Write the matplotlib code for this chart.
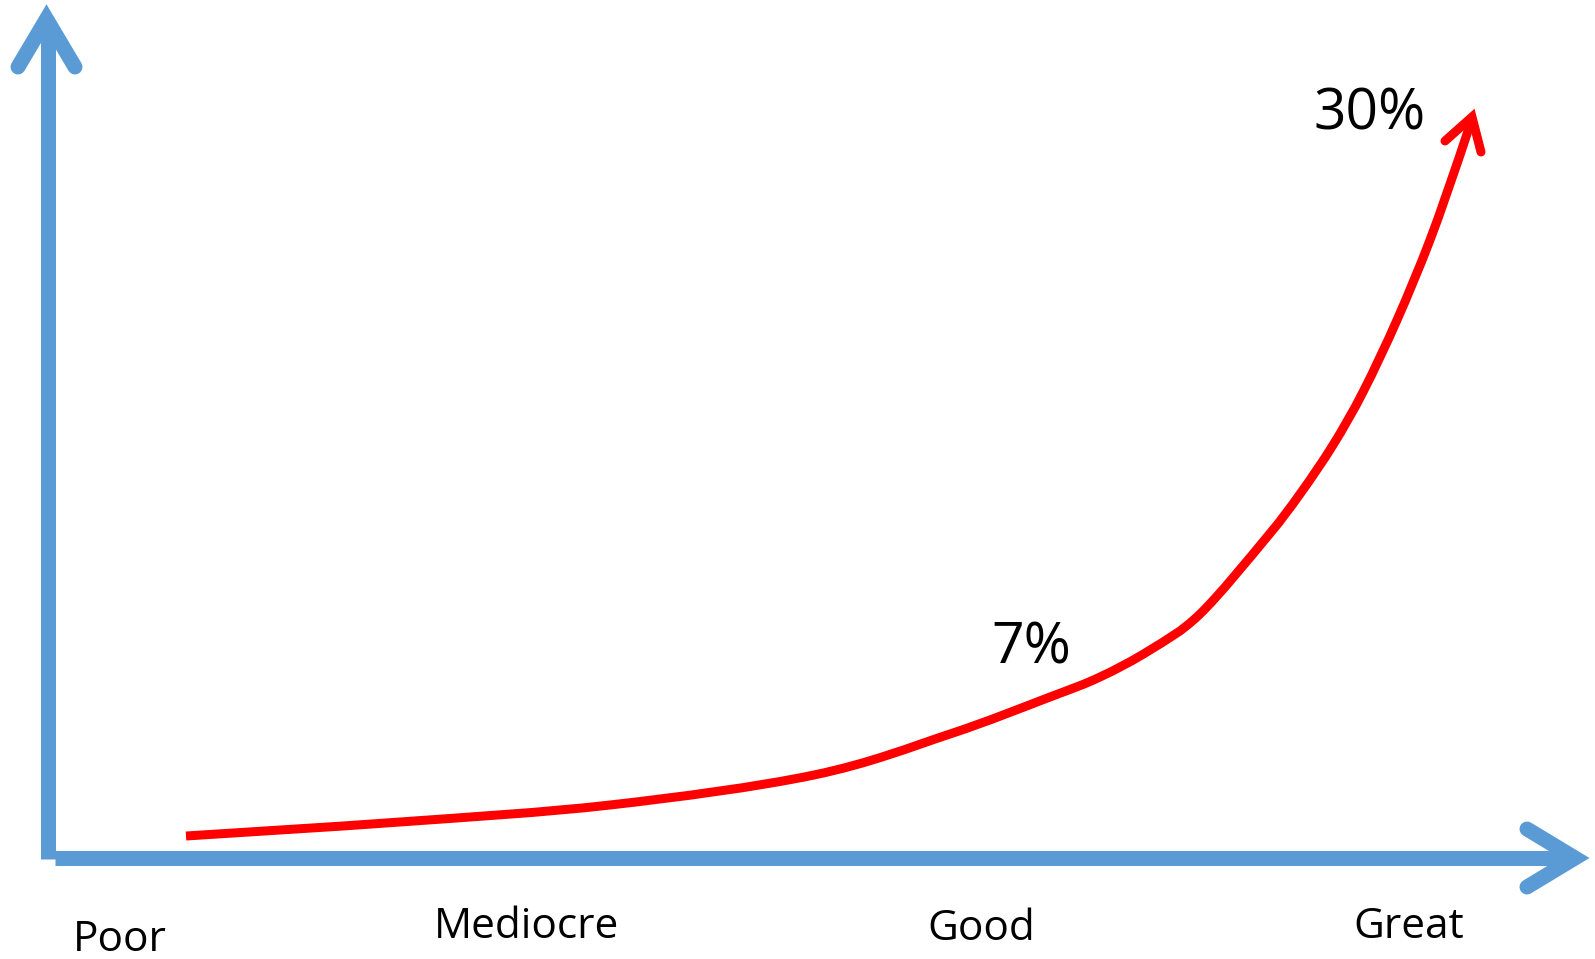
import matplotlib
matplotlib.use('Agg')

import matplotlib.pyplot as plt
from matplotlib.path import Path
from matplotlib.patches import PathPatch

# quality levels along the x axis
categories = ['Poor', 'Mediocre', 'Good', 'Great']
category_x = [120, 526, 981, 1409]
category_base = [951, 938, 940, 938]

# red growth curve (canvas units, y measured downward)
curve_x = [186, 400, 610, 814, 950, 1050, 1100, 1150, 1200, 1267, 1300, 1333, 1363, 1397, 1430, 1460, 1472]
curve_y = [836, 822, 805, 775, 734, 697, 677, 650, 614, 537, 494, 445, 392, 320, 240, 155, 118]

# percentage callouts
pct_labels = ['7%', '30%']
pct_x = [1031, 1370]
pct_y = [663, 129]

BLUE = '#5B9BD5'
RED = '#FF0000'
PX = 0.72  # pixels -> points at dpi 100


def smooth_path(xs, ys):
    # catmull-rom through the points, handed to matplotlib as cubic bezier segments
    p = list(zip(xs, ys))
    n = len(p)
    verts = [p[0]]
    codes = [Path.MOVETO]
    for i in range(n - 1):
        p0 = p[i - 1] if i > 0 else p[i]
        p1, p2 = p[i], p[i + 1]
        p3 = p[i + 2] if i + 2 < n else p[i + 1]
        c1 = (p1[0] + (p2[0] - p0[0]) / 6, p1[1] + (p2[1] - p0[1]) / 6)
        c2 = (p2[0] - (p3[0] - p1[0]) / 6, p2[1] - (p3[1] - p1[1]) / 6)
        verts += [c1, c2, p2]
        codes += [Path.CURVE4] * 3
    return Path(verts, codes)


fig = plt.figure(figsize=(15.95, 9.59), dpi=100)
ax = fig.add_axes([0, 0, 1, 1])
ax.set_xlim(0, 1595)
ax.set_ylim(959, 0)
ax.axis('off')

# y axis shaft + head
ax.plot([47.5, 47.5], [859, 20], color=BLUE, lw=15 * PX, solid_capstyle='butt')
ax.plot([18, 46.5, 75], [67, 19, 67], color=BLUE, lw=15 * PX,
        solid_capstyle='round', solid_joinstyle='miter')

# x axis shaft + head
ax.plot([55, 1574], [858, 858], color=BLUE, lw=15 * PX, solid_capstyle='butt')
ax.plot([1527, 1575, 1527], [829, 858, 887], color=BLUE, lw=15 * PX,
        solid_capstyle='round', solid_joinstyle='miter')

# red curve + arrow head
ax.add_patch(PathPatch(smooth_path(curve_x, curve_y), facecolor='none', edgecolor=RED,
                       lw=9 * PX, capstyle='butt', joinstyle='round'))
ax.plot([1445, 1472, 1481], [141, 117, 152], color=RED, lw=9 * PX,
        solid_capstyle='round', solid_joinstyle='miter')

font = 'Open Sans'
for name, x, y in zip(categories, category_x, category_base):
    ax.text(x, y, name, ha='center', va='baseline', fontsize=30.5, family=font, color='black')

for name, x, y in zip(pct_labels, pct_x, pct_y):
    ax.text(x, y, name, ha='center', va='baseline', fontsize=41, family=font, color='black')

plt.savefig('out.png', dpi=100)
plt.close()
